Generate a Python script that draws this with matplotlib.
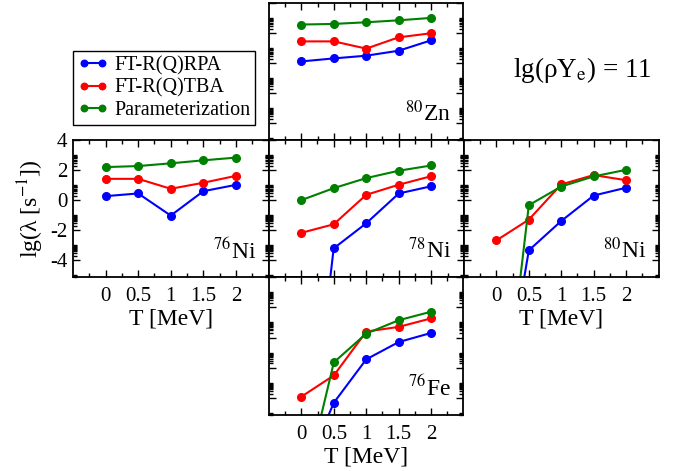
import numpy as np
import matplotlib
matplotlib.use("Agg")
import matplotlib.pyplot as plt
from matplotlib.ticker import FixedLocator, FormatStrFormatter

plt.rcParams['font.family'] = ['Liberation Serif', 'DejaVu Serif']
plt.rcParams['mathtext.fontset'] = 'stix'
plt.rcParams['axes.unicode_minus'] = False

# ---------------------------------------------------------------------------
# Data: lg(lambda) vs temperature
# (values far below the axis are only there so the line enters from below)
# ---------------------------------------------------------------------------
T = [0, 0.5, 1, 1.5, 2]

zn80_rpa = [0.12, 0.32, 0.50, 0.83, 1.52]
zn80_tba = [1.45, 1.45, 0.97, 1.72, 1.99]
zn80_par = [2.57, 2.61, 2.72, 2.85, 3.01]

ni76_rpa = [0.27, 0.45, -1.02, 0.60, 1.02]
ni76_tba = [1.42, 1.42, 0.76, 1.16, 1.62]
ni76_par = [2.20, 2.27, 2.45, 2.65, 2.83]

ni78_rpa = [-22.0, -3.20, -1.53, 0.45, 0.93]
ni78_tba = [-2.17, -1.60, 0.36, 1.03, 1.60]
ni78_par = [0.00, 0.80, 1.47, 1.96, 2.31]

ni80_rpa = [-16.0, -3.33, -1.38, 0.31, 0.83]
ni80_tba = [-2.67, -1.29, 1.05, 1.67, 1.33]
ni80_par = [-18.7, -0.33, 0.91, 1.58, 2.02]

fe76_rpa = [-9.3, -4.29, -1.43, -0.29, 0.31]
fe76_tba = [-3.89, -2.49, 0.40, 0.71, 1.27]
fe76_par = [-10.6, -1.63, 0.27, 1.15, 1.71]

labels = ["FT-R(Q)RPA", "FT-R(Q)TBA", "Parameterization"]
colors = ["#0000ff", "#ff0000", "#008000"]

# ---------------------------------------------------------------------------
# Layout (pixel boxes of the cross-shaped panel arrangement)
# ---------------------------------------------------------------------------
W, H = 685, 471
fig = plt.figure(figsize=(W / 100, H / 100), dpi=100)


def box(x0, y0, x1, y1):
    return [x0 / W, 1 - y1 / H, (x1 - x0) / W, (y1 - y0) / H]


panels = [
    # name, box, series, show x labels, show y labels
    (r"$^{80}$Zn", box(269, 3, 463.5, 140), (zn80_rpa, zn80_tba, zn80_par), False, False),
    (r"$^{76}$Ni", box(73, 140, 268.5, 277), (ni76_rpa, ni76_tba, ni76_par), True, True),
    (r"$^{78}$Ni", box(268.5, 140, 464, 277), (ni78_rpa, ni78_tba, ni78_par), False, False),
    (r"$^{80}$Ni", box(464, 140, 658.5, 277), (ni80_rpa, ni80_tba, ni80_par), True, False),
    (r"$^{76}$Fe", box(269, 277, 463.5, 415), (fe76_rpa, fe76_tba, fe76_par), True, False),
]

y_minor = [n + np.log10(m) for n in range(-6, 4, 2) for m in range(2, 11)]
y_minor = [v for v in y_minor if -5.1 < v < 4.0]

for name, rect, series, xlab, ylab in panels:
    ax = fig.add_axes(rect)
    for vals, c, lab in zip(series, colors, labels):
        ax.plot(T, vals, color=c, lw=1.5, marker="o", ms=5.5, label=lab)
    ax.set_xlim(-0.5, 2.5)
    ax.set_ylim(-5.1, 4.0)
    ax.xaxis.set_major_locator(FixedLocator([0, 0.5, 1, 1.5, 2]))
    ax.xaxis.set_minor_locator(FixedLocator([-0.25, 0.25, 0.75, 1.25, 1.75, 2.25]))
    ax.xaxis.set_major_formatter(FormatStrFormatter("%g"))
    ax.yaxis.set_major_locator(FixedLocator([-4, -2, 0, 2, 4]))
    ax.yaxis.set_minor_locator(FixedLocator(y_minor))
    ax.tick_params(which="both", direction="in", top=True, right=True,
                   labelsize=15, width=1)
    ax.tick_params(which="major", length=5)
    ax.tick_params(which="minor", length=3)
    ax.tick_params(axis="x", pad=7)
    ax.tick_params(axis="y", pad=4)
    ax.tick_params(labelbottom=xlab, labelleft=ylab)
    for sp in ax.spines.values():
        sp.set_linewidth(1.3)
    if xlab:
        ax.set_xlabel("T [MeV]", fontsize=17, labelpad=2)
    if ylab:
        ax.set_ylabel("lg(λ [s$^{\\mathrm{-1}}$])", fontsize=17, labelpad=3)
    ax.text(0.935, 0.135, name, transform=ax.transAxes, ha="right",
            va="baseline", fontsize=17)
    if name == r"$^{76}$Ni":
        handles, hlabels = ax.get_legend_handles_labels()

fig.legend(handles, hlabels, loc="upper left",
           bbox_to_anchor=(73 / W, 1 - 51 / H), borderaxespad=0,
           fontsize=14.5, numpoints=2, handlelength=1.5, handletextpad=0.3,
           labelspacing=0.15, borderpad=0.25, fancybox=False,
           edgecolor="black", framealpha=1, markerscale=0.85)

fig.text(513 / W, 1 - 77 / H, "lg(ρY$_{\\mathrm{e}}$) = 11", ha="left",
         va="baseline", fontsize=19.5)

fig.savefig("out.png", dpi=100)
